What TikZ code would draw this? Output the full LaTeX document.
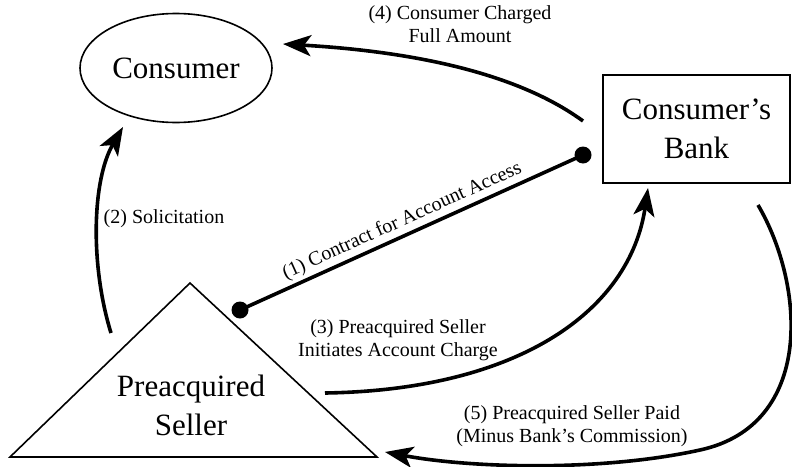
\documentclass[tikz,border=0pt]{standalone}
\usepackage{fontspec}
\setmainfont{Liberation Serif}
\usetikzlibrary{arrows.meta,shapes.geometric}

\begin{document}
\begin{tikzpicture}[x=1pt,y=-1pt,
	party/.style={draw,line width=1.6pt,inner sep=0pt,align=center,font=\fontsize{31}{39}\selectfont},
	flow/.style={line width=3.6pt,-{Stealth[length=28pt,width=21pt,inset=7pt]}},
	tag/.style={align=center,font=\fontsize{20}{23}\selectfont}]
	\useasboundingbox (0,0) rectangle (792,466);

	% Parties
	\node[party,ellipse,minimum width=192,minimum height=109] (consumer) at (176,68) {Consumer};
	\node[party,rectangle,minimum width=187,minimum height=108] (bank) at (696.5,129) {Consumer's\\Bank};
	\draw[line width=1.6pt] (190,283) -- (10,457) -- (377,457) -- cycle;
	\node[align=center,font=\fontsize{31}{39}\selectfont] (seller) at (191,405) {Preacquired\\Seller};

	% End points of the connectors
	\coordinate (solFrom) at (111,333);
	\coordinate (solTo) at (123,127);
	\coordinate (chgFrom) at (583,121);
	\coordinate (chgTo) at (283,44);
	\coordinate (conFrom) at (240,310);
	\coordinate (conTo) at (583,155);
	\coordinate (iniFrom) at (325,393);
	\coordinate (iniTo) at (648,188);
	\coordinate (payFrom) at (758,205);
	\coordinate (payMid) at (700,450);
	\coordinate (payTo) at (385,452);

	% (1) contract
	\draw[line width=3.6pt] (conFrom) -- node[tag,sloped,above=0pt,pos=0.49] {(1) Contract for Account Access} (conTo);
	\fill (conFrom) circle (8.5);
	\fill (conTo) circle (8.5);

	% (2) solicitation
	\draw[flow] (solFrom) .. controls (90,265) and (92,180) .. (solTo);
	\node[tag] (solLbl) at (164,219) {(2) Solicitation};

	% (3) seller initiates charge
	\draw[flow] (iniFrom) .. controls (520,390) and (630,310) .. (iniTo);
	\node[tag] (iniLbl) at (398,340) {(3) Preacquired Seller\\Initiates Account Charge};

	% (4) consumer charged
	\draw[flow] (chgFrom) .. controls (520,75) and (420,52) .. (chgTo);
	\node[tag] (chgLbl) at (460,24) {(4) Consumer Charged\\Full Amount};

	% (5) seller paid
	\draw[flow] (payFrom) .. controls (805,285) and (815,425) .. (payMid)
		.. controls (600,472) and (470,468) .. (payTo);
	\node[tag] (payLbl) at (572,426) {(5) Preacquired Seller Paid\\(Minus Bank's Commission)};
\end{tikzpicture}
\end{document}
